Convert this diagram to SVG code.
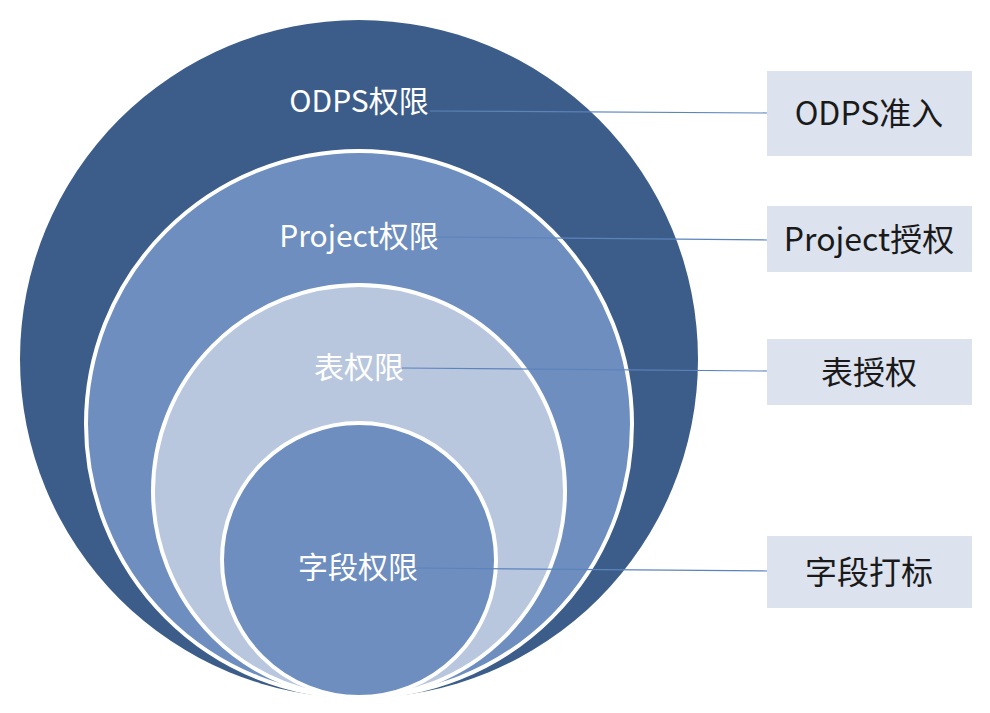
<svg xmlns="http://www.w3.org/2000/svg" width="990" height="713" viewBox="0 0 990 713">
<style>
.ring{stroke:#ffffff;stroke-width:4}
.lbl{font-family:"Noto Sans CJK SC","Noto Sans",sans-serif;font-size:30px;fill:#ffffff;text-anchor:middle}
.box{fill:#dce3ee}
.btx{font-family:"Noto Sans CJK SC","Noto Sans",sans-serif;font-size:32px;fill:#1a1a1a;text-anchor:middle}
.conn{stroke:#5b84bd;stroke-width:1.2;fill:none}
</style>
<rect width="990" height="713" fill="#ffffff"/>
<g id="odps">
<circle cx="359" cy="359" r="339" fill="#3c5d89"/>
</g>
<g id="project">
<circle cx="359" cy="424" r="273" fill="#6d8ebe" class="ring"/>
</g>
<g id="table">
<circle cx="359" cy="491" r="206" fill="#b8c7dd" class="ring"/>
</g>
<g id="field">
<circle cx="359" cy="560" r="137" fill="#6d8ebe" class="ring"/>
</g>
<g id="connectors">
<line class="conn" x1="430" y1="111" x2="767" y2="113"/>
<line class="conn" x1="437" y1="237" x2="767" y2="240"/>
<line class="conn" x1="402" y1="368" x2="767" y2="371"/>
<line class="conn" x1="415" y1="568" x2="767" y2="571"/>
</g>
<g id="label-odps"><text class="lbl" x="359" y="112">ODPS权限</text></g>
<g id="label-project"><text class="lbl" x="359" y="247">Project权限</text></g>
<g id="label-table"><text class="lbl" x="359" y="378">表权限</text></g>
<g id="label-field"><text class="lbl" x="358" y="578">字段权限</text></g>
<g id="box-odps"><rect class="box" x="767" y="71" width="205" height="85"/><text class="btx" x="869" y="125">ODPS准入</text></g>
<g id="box-project"><rect class="box" x="767" y="206" width="205" height="66"/><text class="btx" x="869" y="251">Project授权</text></g>
<g id="box-table"><rect class="box" x="767" y="339" width="205" height="66"/><text class="btx" x="869" y="384">表授权</text></g>
<g id="box-field"><rect class="box" x="767" y="536" width="205" height="72"/><text class="btx" x="869" y="584">字段打标</text></g>
</svg>
